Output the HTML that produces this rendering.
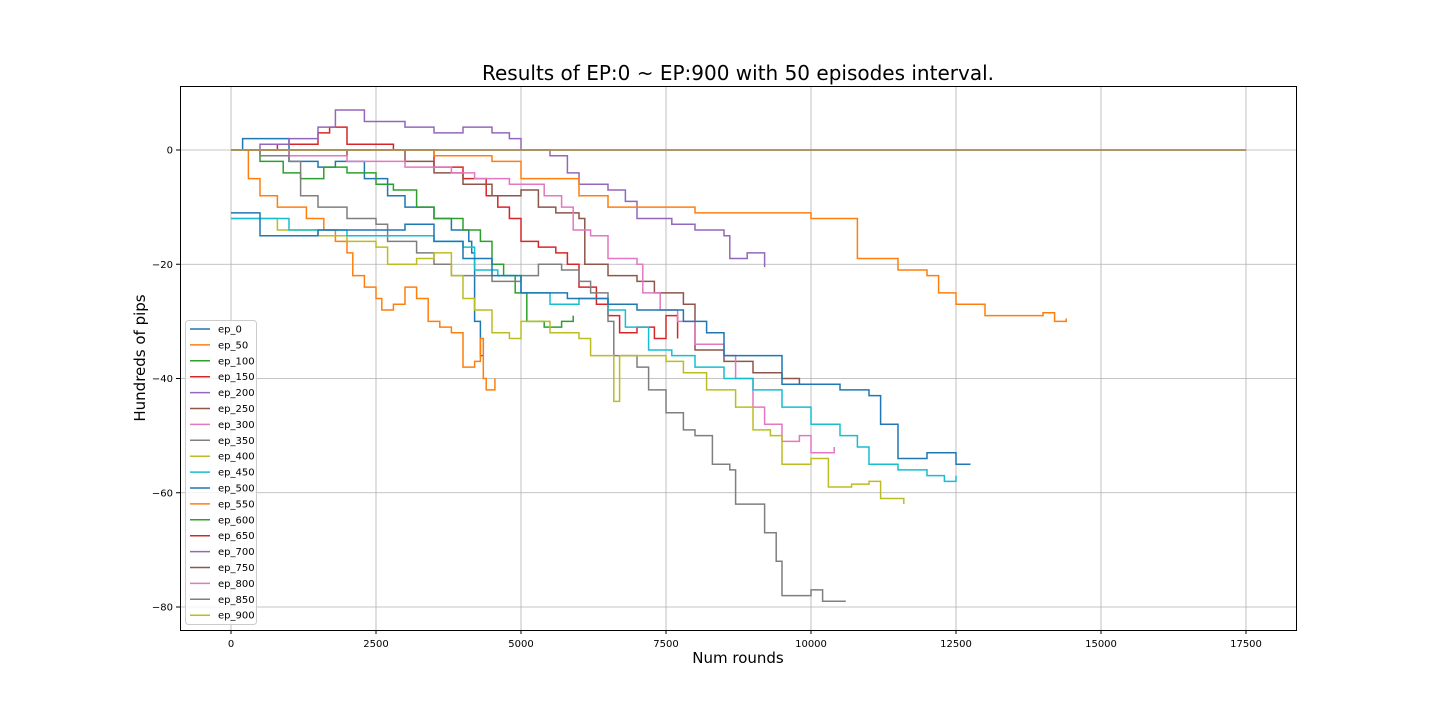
<!DOCTYPE html>
<html><head><meta charset="utf-8"><style>
body{margin:0;background:#fff;}
svg{font-family:"DejaVu Sans","Liberation Sans",sans-serif;}
</style></head><body>
<svg id="chart" width="1440" height="720" viewBox="0 0 1440 720">
<rect width="1440" height="720" fill="#fff"/>
<g id="grid"></g>
<g id="series"></g>
<rect x="180.5" y="86.5" width="1116" height="544" fill="none" stroke="#000" stroke-width="1"/>
<g id="ticks"></g>
<text x="738" y="80" text-anchor="middle" font-size="20">Results of EP:0 ~ EP:900 with 50 episodes interval.</text>
<text x="738" y="663" text-anchor="middle" font-size="15">Num rounds</text>
<text x="145" y="358" text-anchor="middle" font-size="15" transform="rotate(-90 145 358)">Hundreds of pips</text>
<g id="legend"></g>
</svg>
<script>
const seriesNames=["ep_0","ep_50","ep_100","ep_150","ep_200","ep_250","ep_300","ep_350","ep_400","ep_450","ep_500","ep_550","ep_600","ep_650","ep_700","ep_750","ep_800","ep_850","ep_900"];
const seriesColors=["#1f77b4","#ff7f0e","#2ca02c","#d62728","#9467bd","#8c564b","#e377c2","#7f7f7f","#bcbd22","#17becf","#1f77b4","#ff7f0e","#2ca02c","#d62728","#9467bd","#8c564b","#e377c2","#7f7f7f","#bcbd22"];
const xTicks=[0,2500,5000,7500,10000,12500,15000,17500];
const yTicks=[0,-20,-40,-60,-80];
const s0x=[0,200,1000,1500,1800,2300,2700,3000,3500,3800,4100,4150,4200,4300,4350];
const s0y=[0,2,-2,-3,-2,-5,-8,-10,-12,-14,-16,-18,-30,-36,-33];
const s1x=[0,300,500,800,1300,1600,1800,2000,2100,2300,2500,2600,2800,3000,3200,3400,3600,3800,4000,4200,4300,4350,4400,4550];
const s1y=[0,-5,-8,-10,-12,-14,-16,-18,-22,-24,-26,-28,-27,-24,-26,-30,-31,-32,-38,-37,-33,-40,-42,-40];
const s2x=[0,500,900,1200,1600,2000,2500,2800,3200,3500,4000,4300,4500,4700,4900,5100,5400,5700,5900];
const s2y=[0,-2,-4,-5,-3,-4,-6,-7,-10,-12,-14,-16,-20,-22,-25,-30,-31,-30,-29];
const s3x=[0,800,1500,1700,2000,2800,3500,4000,4400,4600,4800,5000,5300,5600,5800,6000,6300,6500,6700,7000,7300,7500,7700];
const s3y=[0,1,3,4,1,0,-3,-5,-8,-10,-12,-16,-17,-18,-20,-24,-27,-29,-32,-31,-33,-29,-33];
const s4x=[0,500,1000,1500,1800,2300,3000,3500,4000,4500,4800,5000,5500,5800,6000,6500,6800,7000,7600,8000,8500,8600,8900,9200];
const s4y=[0,1,2,4,7,5,4,3,4,3,2,0,-1,-4,-6,-7,-9,-12,-13,-14,-15,-19,-18,-20.5];
const s5x=[0,1000,2000,3000,3500,4000,4500,5000,5300,5600,6000,6100,6500,7000,7300,7800,8000,8500,9000,9500,9800];
const s5y=[0,-1,0,-2,-4,-6,-8,-7,-10,-11,-12,-20,-22,-23,-25,-27,-35,-37,-39,-40,-41];
const s6x=[0,1000,2000,3000,3800,4200,4800,5400,5700,5900,6200,6500,7000,7100,7400,7700,8000,8500,8700,9000,9200,9500,9800,10000,10400];
const s6y=[0,-1,-2,-3,-4,-5,-6,-8,-10,-14,-15,-19,-20,-25,-28,-30,-34,-36,-40,-45,-48,-51,-50,-53,-52];
const s7x=[0,500,1000,1200,1500,2000,2500,2700,3200,3500,3800,4500,5000,5300,5700,6000,6200,6500,6600,7000,7200,7500,7800,8000,8300,8600,8700,9000,9200,9400,9500,10000,10200,10600];
const s7y=[0,-1,-2,-8,-10,-12,-13,-16,-18,-20,-22,-23,-22,-20,-21,-23,-25,-30,-36,-38,-42,-46,-49,-50,-55,-56,-62,-62,-67,-72,-78,-77,-79,-79];
const s8x=[0,500,800,1500,2000,2500,2700,3200,3500,3800,4000,4200,4500,4800,5000,5500,6000,6200,6600,6700,7500,7800,8200,8700,9000,9300,9500,10000,10300,10700,11000,11200,11600];
const s8y=[-12,-12,-14,-15,-16,-17,-20,-19,-18,-22,-26,-28,-32,-33,-30,-32,-33,-36,-44,-36,-37,-39,-42,-45,-49,-50,-55,-54,-59,-58.5,-58,-61,-62];
const s9x=[0,600,1000,2000,3000,3500,4000,4200,4600,5000,5500,6000,6500,6800,7200,7600,8000,8500,9000,9500,10000,10500,10800,11000,11500,12000,12300,12500];
const s9y=[-12,-12,-14,-15,-15,-16,-17,-21,-22,-25,-27,-26,-28,-31,-35,-36,-38,-40,-42,-45,-48,-50,-52,-55,-56,-57,-58,-57];
const s10x=[0,500,1500,2500,3000,3500,4000,4500,5000,5800,6500,7000,7800,8200,8500,9000,9500,10000,10500,11000,11200,11500,12000,12500,12750];
const s10y=[-11,-15,-14,-14,-13,-16,-19,-22,-25,-26,-27,-28,-30,-32,-36,-36,-41,-41,-42,-43,-48,-54,-53,-55,-55];
const s11x=[0,2000,3500,4500,5000,6000,6500,7500,8000,9500,10000,10500,10800,11300,11500,12000,12200,12500,13000,14000,14200,14400];
const s11y=[0,0,-1,-2,-5,-8,-10,-10,-11,-11,-12,-12,-19,-19,-21,-22,-25,-27,-29,-28.5,-30,-29.5];
const flatX=[0,17500];
const flatY=[0,0];
const seriesX=[s0x,s1x,s2x,s3x,s4x,s5x,s6x,s7x,s8x,s9x,s10x,s11x,flatX,flatX,flatX,flatX,flatX,flatX,flatX];
const seriesY=[s0y,s1y,s2y,s3y,s4y,s5y,s6y,s7y,s8y,s9y,s10y,s11y,flatY,flatY,flatY,flatY,flatY,flatY,flatY];

const NS="http://www.w3.org/2000/svg";
const L=180,R=1296,T=86,B=630;
function xs(v){return 231+v*(1246-231)/17500;}
function ys(v){return 150-v*(607-150)/80;}
const grid=document.getElementById('grid'),ticks=document.getElementById('ticks');
function mk(tag,attrs,parent){const e=document.createElementNS(NS,tag);for(const k in attrs)e.setAttribute(k,attrs[k]);parent.appendChild(e);return e;}
xTicks.forEach(t=>{
  const x=xs(t);
  const g=mk('line',{x1:x,x2:x,y1:T,y2:B,stroke:'#b0b0b0','stroke-width':0.8},grid);
  
  
  const tk=mk('line',{x1:x,x2:x,y1:B,y2:B+4,stroke:'#000'},ticks);
  
  
  const lb=mk('text',{x:x,y:B+17,'text-anchor':'middle','font-size':10},ticks);
  lb.textContent=t;
  
  
});
yTicks.forEach(t=>{
  const y=ys(t);
  const g=mk('line',{x1:L,x2:R,y1:y,y2:y,stroke:'#b0b0b0','stroke-width':0.8},grid);
  
  
  const tk=mk('line',{x1:L-4,x2:L,y1:y,y2:y,stroke:'#000'},ticks);
  
  
  const lb=mk('text',{x:L-7,y:y+3.5,'text-anchor':'end','font-size':10},ticks);
  lb.textContent=(t<0?'\u2212'+(-t):t);
  
  
});
const sg=document.getElementById('series');
seriesNames.forEach((n,i)=>{
  const X=seriesX[i],Y=seriesY[i];
  let d='M'+xs(X[0])+' '+ys(Y[0]);
  for(let k=1;k<X.length;k++){d+=' H'+xs(X[k])+' V'+ys(Y[k]);}
  const flat=i>=12;
  const p=mk('path',{d:d,fill:'none',stroke:seriesColors[i],'stroke-width':1.5,'stroke-opacity':flat?0.55:1},sg);
  
  
});
const lg=document.getElementById('legend');
const box=mk('rect',{x:185.5,y:320.5,width:71,height:304,rx:3,fill:'#fff','fill-opacity':0.8,stroke:'#ccc'},lg);


seriesNames.forEach((n,i)=>{
  const y=329+i*15.9;
  const g=mk('g',{},lg);
  
  
  mk('line',{x1:190,x2:210,y1:y,y2:y,stroke:seriesColors[i],'stroke-width':1.5},g);
  const t=mk('text',{x:218,y:y+3.5,'font-size':10},g);
  t.textContent=n;
});
</script>
</body></html>
